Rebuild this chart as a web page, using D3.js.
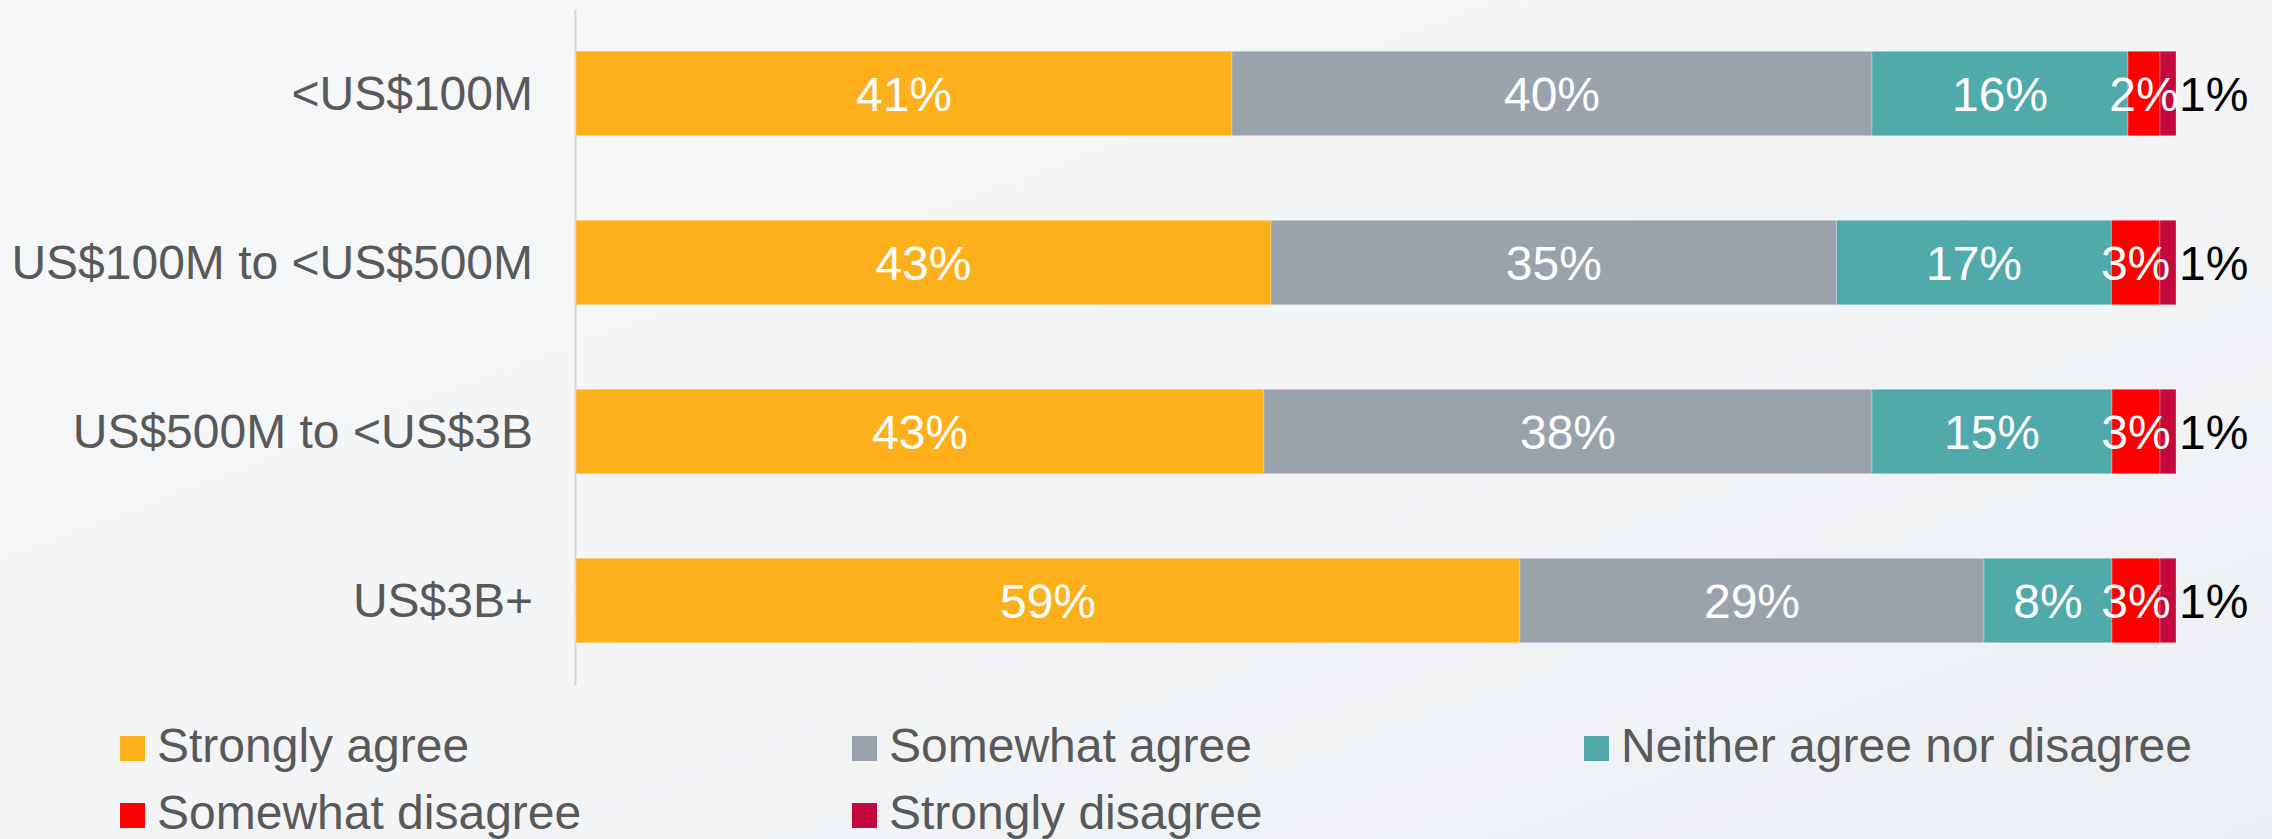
<!DOCTYPE html>
<html>
<head>
<meta charset="utf-8">
<script src="https://cdn.jsdelivr.net/npm/d3@7"></script>
<style>
  html, body { margin: 0; padding: 0; }
  body { width: 2272px; height: 839px; overflow: hidden; }
  svg { display: block; font-family: "Liberation Sans", Arial, sans-serif; }
</style>
</head>
<body>
<svg id="chart" width="2272" height="839"></svg>
<script>
// Revenue bands (rows, top to bottom)
const categories = ["<US$100M", "US$100M to <US$500M", "US$500M to <US$3B", "US$3B+"];

// Response options, in stacking order
const seriesNames = ["Strongly agree", "Somewhat agree", "Neither agree nor disagree", "Somewhat disagree", "Strongly disagree"];
const seriesColors = ["#FDB01B", "#9AA3AC", "#50AAAB", "#FF0000", "#C40A3C"];

// Share of respondents (%) per response, one array per revenue band
const stronglyAgree    = [41, 43, 43, 59];
const somewhatAgree    = [40, 35, 38, 29];
const neitherAgree     = [16, 17, 15, 8];
const somewhatDisagree = [2, 3, 3, 3];
const stronglyDisagree = [1, 1, 1, 1];

const seriesValues = [stronglyAgree, somewhatAgree, neitherAgree, somewhatDisagree, stronglyDisagree];

const rows = categories.map((c, i) => {
  const r = { category: c };
  seriesNames.forEach((s, k) => { r[s] = seriesValues[k][i]; });
  return r;
});

const svg = d3.select("#chart");

// Soft light backdrop
const defs = svg.append("defs");
const bg = defs.append("linearGradient").attr("id", "bg").attr("x1", 0).attr("y1", 0).attr("x2", 1).attr("y2", 1);
bg.append("stop").attr("offset", "0%").attr("stop-color", "#f6f7f9");
bg.append("stop").attr("offset", "60%").attr("stop-color", "#f2f4f6");
bg.append("stop").attr("offset", "100%").attr("stop-color", "#eceff2");
svg.append("rect").attr("width", 2272).attr("height", 839).attr("fill", "url(#bg)");

// 100% stacked layout
const stack = d3.stack().keys(seriesNames).offset(d3.stackOffsetExpand);
const layers = stack(rows);

const x = d3.scaleLinear().domain([0, 1]).range([576, 2176]);
const y = d3.scaleBand().domain(categories).range([9, 685]).paddingInner(0.5).paddingOuter(0.25);

const fontSize = 48;

// Category axis
const yAxis = svg.append("g")
  .attr("transform", `translate(${x(0) - 1},0)`)
  .call(d3.axisLeft(y).tickSize(0).tickPadding(42));
yAxis.select(".domain").attr("stroke", "#d3d5d8").attr("stroke-width", 2);
yAxis.selectAll("text")
  .attr("fill", "#595959")
  .style("font-size", fontSize + "px")
  .style("font-family", "'Liberation Sans', Arial, sans-serif")
  .attr("dy", "0.35em");

// Bars
const layerG = svg.append("g").selectAll("g")
  .data(layers)
  .join("g")
  .attr("fill", (d, i) => seriesColors[i]);

layerG.selectAll("rect")
  .data(d => d.map(p => ({ p, key: d.key })))
  .join("rect")
  .attr("x", d => x(d.p[0]))
  .attr("y", d => y(d.p.data.category))
  .attr("width", d => x(d.p[1]) - x(d.p[0]))
  .attr("height", y.bandwidth())
  .attr("stroke", "rgba(255,255,255,0.35)")
  .attr("stroke-width", 0.8);

// Value labels drawn above every bar: inside segments in white,
// the last segment's label just past the bar end in black
const lastKey = seriesNames[seriesNames.length - 1];
const labelData = layers.flatMap(layer => layer.map(p => ({ p, key: layer.key })));
svg.append("g").selectAll("text")
  .data(labelData)
  .join("text")
  .attr("x", d => d.key === lastKey ? x(d.p[1]) + 3 : (x(d.p[0]) + x(d.p[1])) / 2)
  .attr("y", d => y(d.p.data.category) + y.bandwidth() / 2)
  .attr("dy", "0.36em")
  .attr("text-anchor", d => d.key === lastKey ? "start" : "middle")
  .attr("fill", d => d.key === lastKey ? "#000000" : "#ffffff")
  .style("font-size", fontSize + "px")
  .text(d => d.p.data[d.key] + "%");

// Legend: three columns, two rows
const legendCols = [120, 852, 1584];
const legendRows = [736, 803];
const legend = svg.append("g").selectAll("g")
  .data(seriesNames)
  .join("g")
  .attr("transform", (d, i) => `translate(${legendCols[i % 3]},${legendRows[Math.floor(i / 3)]})`);

legend.append("rect")
  .attr("width", 25)
  .attr("height", 25)
  .attr("fill", (d, i) => seriesColors[i]);

legend.append("text")
  .attr("x", 37)
  .attr("y", 26)
  .attr("fill", "#595959")
  .style("font-size", fontSize + "px")
  .text(d => d);
</script>
</body>
</html>
